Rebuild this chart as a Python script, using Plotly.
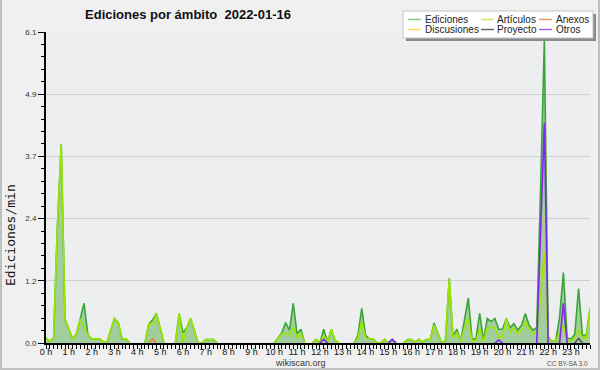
import plotly.graph_objects as go

# ---------------- data (edits per minute, 144 samples over the day) ----------------
ediciones = [
    0.10, 0.03, 0.10, 2.30, 3.90, 0.47, 0.27, 0.08, 0.18, 0.50, 0.78, 0.17,
    0.08, 0.08, 0.08, 0.03, 0.00, 0.25, 0.48, 0.40, 0.08, 0.08, 0.00, 0.00,
    0.00, 0.00, 0.00, 0.37, 0.45, 0.58, 0.30, 0.00, 0.00, 0.00, 0.00, 0.58,
    0.20, 0.30, 0.48, 0.25, 0.00, 0.00, 0.07, 0.07, 0.07, 0.00, 0.00, 0.00,
    0.00, 0.00, 0.00, 0.00, 0.00, 0.00, 0.00, 0.00, 0.00, 0.00, 0.00, 0.00,
    0.00, 0.10, 0.20, 0.40, 0.25, 0.78, 0.18, 0.27, 0.00, 0.00, 0.00, 0.07,
    0.00, 0.27, 0.02, 0.27, 0.05, 0.00, 0.00, 0.00, 0.00, 0.00, 0.15, 0.68,
    0.15, 0.08, 0.08, 0.00, 0.00, 0.07, 0.00, 0.07, 0.00, 0.00, 0.00, 0.07,
    0.07, 0.02, 0.07, 0.02, 0.07, 0.07, 0.39, 0.20, 0.00, 0.05, 1.27, 0.12,
    0.27, 0.03, 0.42, 0.88, 0.08, 0.08, 0.58, 0.05, 0.48, 0.42, 0.48, 0.27,
    0.27, 0.48, 0.30, 0.38, 0.25, 0.35, 0.58, 0.35, 0.25, 0.30, 3.00, 5.95,
    0.12, 0.03, 0.05, 0.50, 1.38, 0.10, 0.08, 0.17, 1.07, 0.15, 0.15, 0.68,
]
articulos = [
    0.10, 0.03, 0.10, 2.30, 3.90, 0.47, 0.27, 0.08, 0.18, 0.47, 0.30, 0.17,
    0.08, 0.08, 0.08, 0.03, 0.00, 0.25, 0.48, 0.40, 0.08, 0.08, 0.00, 0.00,
    0.00, 0.00, 0.00, 0.37, 0.37, 0.58, 0.30, 0.00, 0.00, 0.00, 0.00, 0.58,
    0.00, 0.30, 0.48, 0.25, 0.00, 0.00, 0.07, 0.07, 0.07, 0.00, 0.00, 0.00,
    0.00, 0.00, 0.00, 0.00, 0.00, 0.00, 0.00, 0.00, 0.00, 0.00, 0.00, 0.00,
    0.00, 0.10, 0.18, 0.18, 0.15, 0.30, 0.10, 0.20, 0.00, 0.00, 0.00, 0.07,
    0.00, 0.15, 0.02, 0.27, 0.05, 0.00, 0.00, 0.00, 0.00, 0.00, 0.10, 0.42,
    0.10, 0.08, 0.08, 0.00, 0.00, 0.07, 0.00, 0.00, 0.00, 0.00, 0.00, 0.07,
    0.07, 0.02, 0.07, 0.02, 0.07, 0.07, 0.35, 0.20, 0.00, 0.05, 1.25, 0.10,
    0.20, 0.03, 0.30, 0.48, 0.03, 0.05, 0.28, 0.03, 0.30, 0.30, 0.30, 0.10,
    0.12, 0.48, 0.20, 0.30, 0.18, 0.25, 0.42, 0.28, 0.18, 0.20, 0.90, 1.79,
    0.10, 0.03, 0.05, 0.20, 0.35, 0.05, 0.05, 0.10, 0.27, 0.10, 0.10, 0.68,
]
anexos = [0.0] * 144
anexos[28] = 0.08
discusiones = [0.0] * 144
proyecto = [0.0] * 144
proyecto[140] = 0.09
otros = [0.0] * 144
otros[73] = 0.07
otros[91] = 0.07
otros[119] = 0.06
otros[130] = 2.15
otros[131] = 4.31
otros[136] = 0.78

series_names = ["Ediciones", "Artículos", "Anexos", "Discusiones", "Proyecto", "Otros"]
series_values = [ediciones, articulos, anexos, discusiones, proyecto, otros]
series_colors = ["#3aa53a", "#9ee600", "#f07a3c", "#ffd23c", "#555555", "#8424f0"]
legend_colors = ["#8cc98c", "#c8ee66", "#f5926a", "#ffd966", "#6a6a6a", "#a066f0"]

hour_labels = [f"{h} h" for h in range(24)]
y_tick_values = [0, 1.22, 2.44, 3.66, 4.88, 6.1]
y_tick_labels = ["0.0", "1.2", "2.4", "3.7", "4.9", "6.1"]

title_text = "Ediciones por ámbito  2022-01-16"
y_title = "Ediciones/min"

# ---------------- figure ----------------
N = len(ediciones)
step = 24 / (N - 1)
x = [i * step for i in range(N)]

W, H = 600, 370
ML, MR, MT, MB = 46, 10, 32, 27
PW, PH = W - ML - MR, H - MT - MB


def px(xp):
    return (xp - ML) / PW


def py(yp):
    return (H - MB - yp) / PH


def mask_zero_runs(vals):
    out = []
    n = len(vals)
    for i, v in enumerate(vals):
        prev0 = i == 0 or vals[i - 1] == 0
        next0 = i == n - 1 or vals[i + 1] == 0
        out.append(None if (v == 0 and prev0 and next0) else v)
    return out


fig = go.Figure()
fig.add_trace(go.Scatter(x=x, y=ediciones, mode="lines", fill="tozeroy",
                         fillcolor="#a2cd9e", line=dict(width=0),
                         showlegend=False, hoverinfo="skip"))
for name, vals, col in zip(series_names, series_values, series_colors):
    fig.add_trace(go.Scatter(x=x, y=mask_zero_runs(vals), mode="lines", name=name,
                             line=dict(color=col, width=1.6), showlegend=False))

# manual legend (3 columns x 2 rows)
shapes = [
    dict(type="rect", xref="paper", yref="paper", x0=px(406), x1=px(596), y0=py(41), y1=py(14),
         fillcolor="#8a8a8a", line=dict(width=0), layer="above"),
    dict(type="rect", xref="paper", yref="paper", x0=px(403), x1=px(593), y0=py(38), y1=py(11),
         fillcolor="#ffffff", line=dict(color="#c4c4c4", width=1), layer="above"),
    dict(type="rect", xref="paper", yref="paper", x0=px(1), x1=px(599), y0=py(369), y1=py(-2),
         fillcolor="rgba(0,0,0,0)", line=dict(color="#c0c0c0", width=2), layer="above"),
]
annotations = []
col_line_x = [408, 481, 539]
col_text_x = [423, 495, 554]
row_y = [19.5, 29.5]
order = [[0, 3], [1, 4], [2, 5]]  # columns
for c, idxs in enumerate(order):
    for r, k in enumerate(idxs):
        shapes.append(dict(type="line", xref="paper", yref="paper",
                           x0=px(col_line_x[c]), x1=px(col_line_x[c] + 13),
                           y0=py(row_y[r]), y1=py(row_y[r]),
                           line=dict(color=legend_colors[k], width=1.5), layer="above"))
        annotations.append(dict(text=series_names[k], xref="paper", yref="paper",
                                x=px(col_text_x[c]), y=py(row_y[r]), xanchor="left",
                                yanchor="middle", showarrow=False,
                                font=dict(family="Liberation Sans", size=10, color="#222")))

annotations += [
    dict(text=y_title, xref="paper", yref="paper", x=px(11), y=py(235), textangle=-90,
         xanchor="center", yanchor="middle", showarrow=False,
         font=dict(family="DejaVu Sans Mono", size=13, color="#111")),
    dict(text="wikiscan.org", xref="paper", yref="paper", x=px(300), y=py(363),
         xanchor="center", yanchor="middle", showarrow=False,
         font=dict(family="Liberation Sans", size=9, color="#333")),
    dict(text="CC BY-SA 3.0", xref="paper", yref="paper", x=px(590), y=py(363),
         xanchor="right", yanchor="middle", showarrow=False,
         font=dict(family="Liberation Sans", size=6.5, color="#555")),
]

fig.update_layout(
    width=W, height=H,
    margin=dict(l=ML, r=MR, t=MT, b=MB, pad=0),
    paper_bgcolor="#f0f0f0", plot_bgcolor="#eceef0",
    title=dict(text=title_text, x=188 / W, xanchor="center", y=1 - 14 / H, yanchor="middle",
               xref="container", yref="container",
               font=dict(family="Liberation Sans", size=13, color="#111", weight="bold")),
    shapes=shapes, annotations=annotations, showlegend=False,
    xaxis=dict(range=[0, 24], showgrid=False, zeroline=False, showline=True,
               linecolor="#000", linewidth=2, ticks="outside", ticklen=4, tickcolor="#000",
               tickvals=[h * 6 * step for h in range(24)], ticktext=hour_labels,
               tickfont=dict(family="Liberation Sans", size=9, color="#111"),
               ticklabelstandoff=-5,
               minor=dict(tick0=0, dtick=step, ticks="outside", ticklen=4, tickcolor="#000")),
    yaxis=dict(range=[0, 6.1], tickvals=y_tick_values, ticktext=y_tick_labels,
               showgrid=True, gridcolor="#cfcfcf", gridwidth=1, zeroline=False,
               showline=True, linecolor="#000", linewidth=2, ticks="outside", ticklen=6,
               tickcolor="#000",
               tickfont=dict(family="Liberation Sans", size=8, color="#333"),
               minor=dict(dtick=0.244, ticks="outside", ticklen=3, tickcolor="#000")),
)

fig.write_html("out.html", config={"displayModeBar": False},
               post_script="document.body.style.margin='0';document.body.style.overflow='hidden';")
